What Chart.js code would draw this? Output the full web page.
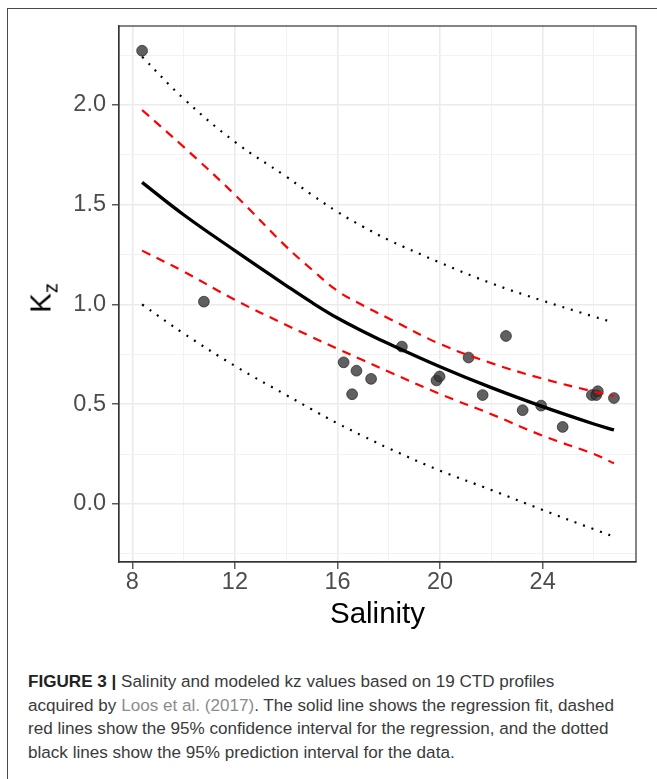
<!DOCTYPE html>
<html>
<head>
<meta charset="utf-8">
<script src="https://cdn.jsdelivr.net/npm/chart.js@4.4.1/dist/chart.umd.min.js"></script>
<style>
  html, body { margin: 0; padding: 0; background: #fff; }
  body { width: 657px; height: 779px; position: relative; overflow: hidden; font-family: "Liberation Sans", Arial, sans-serif; }
  #frame { position: absolute; left: 7px; top: 8px; width: 700px; height: 800px; border: 1.5px solid #4a4a4a; box-sizing: border-box; }
  #wrap { position: absolute; left: 0; top: 0; width: 657px; height: 650px; }
  #ytitle { position: absolute; left: 43px; top: 298px; transform: translate(-50%, -50%) rotate(-90deg); font-size: 29.5px; line-height: 1; color: #000; white-space: nowrap; }
  #ytitle sub { font-size: 20px; vertical-align: -7px; }
  #caption { position: absolute; left: 28px; top: 670px; font-size: 17.1px; line-height: 23.5px; color: #3a3a3a; white-space: nowrap; }
  #caption b { color: #222; }
  #caption .ref { color: #8c8c8c; }
</style>
</head>
<body>
<div id="frame"></div>
<div id="wrap"><canvas id="kzChart" width="657" height="650"></canvas></div>
<div id="ytitle">K<sub>z</sub></div>
<div id="caption">
  <b>FIGURE 3 |</b> Salinity and modeled kz values based on 19 CTD profiles<br>
  acquired by <span class="ref">Loos et al. (2017)</span>. The solid line shows the regression fit, dashed<br>
  red lines show the 95% confidence interval for the regression, and the dotted<br>
  black lines show the 95% prediction interval for the data.
</div>
<script>
// CTD profiles (salinity vs modeled kz)
const salinity = [8.38, 10.79, 16.24, 16.74, 17.31, 16.57, 18.51, 19.86, 19.98, 21.11,
                  21.66, 22.57, 23.22, 23.94, 24.78, 25.92, 26.09, 26.15, 26.78];
const kz = [2.272, 1.014, 0.710, 0.668, 0.627, 0.550, 0.789, 0.619, 0.639, 0.734,
            0.546, 0.842, 0.470, 0.493, 0.386, 0.546, 0.546, 0.565, 0.531];

// regression curve and intervals
const curveSalinity = [8.38, 10, 12, 14, 15, 16, 17, 18, 20, 22, 24, 26, 26.78];
const fitKz =      [1.612, 1.45, 1.27, 1.095, 1.01, 0.932, 0.865, 0.803, 0.688, 0.583, 0.488, 0.401, 0.371];
const confUpper =  [1.975, 1.79, 1.55, 1.29, 1.175, 1.068, 0.995, 0.93, 0.802, 0.706, 0.628, 0.563, 0.541];
const confLower =  [1.27, 1.165, 1.023, 0.897, 0.837, 0.778, 0.72, 0.663, 0.551, 0.45, 0.342, 0.25, 0.204];
const predUpper =  [2.242, 2.032, 1.815, 1.641, 1.55, 1.464, 1.39, 1.323, 1.21, 1.106, 1.019, 0.939, 0.909];
const predLower =  [1.0, 0.855, 0.692, 0.546, 0.474, 0.404, 0.34, 0.279, 0.167, 0.07, -0.03, -0.127, -0.164];

// axes
const xTicks = [8, 10, 12, 14, 16, 18, 20, 22, 24, 26];
const xLabels = [8, 12, 16, 20, 24];
const yTicks = [-0.25, 0, 0.25, 0.5, 0.75, 1.0, 1.25, 1.5, 1.75, 2.0, 2.25];
const yLabels = [0, 0.5, 1.0, 1.5, 2.0];

function pairs(xs, ys) {
    return xs.map((x, i) => ({ x: x, y: ys[i] }));
}

const isMajor = (list, v) => list.some(l => Math.abs(l - v) < 1e-9);

function curve(values, color, width, dash) {
    return {
        data: pairs(curveSalinity, values),
        showLine: true,
        borderColor: color,
        borderWidth: width,
        borderDash: dash,
        pointRadius: 0,
        tension: 0.4
    };
}

// ggplot style frame around the panel
const panelBorder = {
    id: 'panelBorder',
    afterDraw(chart) {
        const { ctx, chartArea: a } = chart;
        ctx.save();
        ctx.strokeStyle = '#333333';
        ctx.lineWidth = 1.2;
        ctx.strokeRect(a.left, a.top, a.right - a.left, a.bottom - a.top);
        ctx.restore();
    }
};

function axisGrid(list) {
    return {
        color: c => isMajor(list, c.tick.value) ? '#EBEBEB' : '#F2F2F2',
        lineWidth: c => isMajor(list, c.tick.value) ? 1.6 : 1,
        tickColor: c => isMajor(list, c.tick.value) ? '#333333' : 'rgba(0,0,0,0)',
        tickWidth: 1.2,
        tickLength: 7
    };
}

const tickFont = { family: '"Liberation Sans", Arial, sans-serif', size: 23.5, lineHeight: 1 };

new Chart(document.getElementById('kzChart'), {
    type: 'scatter',
    data: {
        datasets: [
            curve(fitKz, '#000000', 3.3, []),
            curve(confUpper, '#FF0000', 2.2, [9, 7]),
            curve(confLower, '#FF0000', 2.2, [9, 7]),
            curve(predUpper, '#000000', 2.2, [2, 7]),
            curve(predLower, '#000000', 2.2, [2, 7]),
            {
                data: pairs(salinity, kz),
                pointRadius: 5.4,
                backgroundColor: 'rgba(51,51,51,0.78)',
                borderColor: 'rgba(30,30,30,0.85)',
                borderWidth: 0.8
            }
        ]
    },
    options: {
        responsive: false,
        devicePixelRatio: 1,
        animation: false,
        layout: { padding: { left: 0, top: 26, right: 21, bottom: 0 } },
        plugins: { legend: { display: false }, tooltip: { enabled: false } },
        scales: {
            x: {
                type: 'linear',
                min: 7.48,
                max: 27.64,
                afterBuildTicks: s => { s.ticks = xTicks.map(v => ({ value: v })); },
                afterFit: s => { s.height = 88; },
                grid: axisGrid(xLabels),
                border: { display: true, color: '#333333', width: 1.2 },
                ticks: {
                    autoSkip: false,
                    maxRotation: 0,
                    padding: 2,
                    color: '#4D4D4D',
                    font: tickFont,
                    callback: v => isMajor(xLabels, v) ? String(v) : ''
                },
                title: {
                    display: true,
                    text: 'Salinity',
                    color: '#000000',
                    font: { family: '"Liberation Sans", Arial, sans-serif', size: 29.5, lineHeight: 1 },
                    padding: { top: 0, bottom: 20 }
                }
            },
            y: {
                type: 'linear',
                min: -0.291,
                max: 2.396,
                afterBuildTicks: s => { s.ticks = yTicks.map(v => ({ value: v })); },
                afterFit: s => { s.width = 119; },
                grid: axisGrid(yLabels),
                border: { display: true, color: '#333333', width: 1.2 },
                ticks: {
                    autoSkip: false,
                    padding: 6,
                    color: '#4D4D4D',
                    font: tickFont,
                    callback: v => isMajor(yLabels, v) ? v.toFixed(1) : ''
                }
            }
        }
    },
    plugins: [panelBorder]
});
</script>
</body>
</html>
